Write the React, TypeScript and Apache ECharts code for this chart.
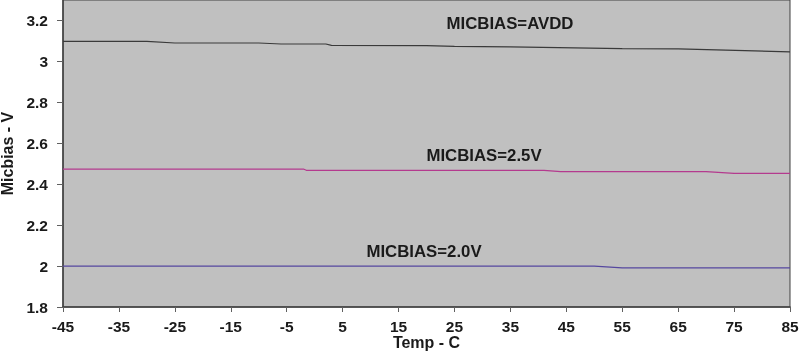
import React, { useEffect, useRef } from "react";
import * as echarts from "echarts";

const xTicks = [-45, -35, -25, -15, -5, 5, 15, 25, 35, 45, 55, 65, 75, 85];
const yTicks = [1.8, 2.0, 2.2, 2.4, 2.6, 2.8, 3.0, 3.2];

const avdd: [number, number][] = [
  [-45, 3.098], [-30, 3.098], [-25, 3.09], [-10, 3.09], [-6, 3.085],
  [2, 3.085], [3, 3.078], [20, 3.077], [25, 3.073], [35, 3.071],
  [55, 3.062], [65, 3.061], [85, 3.047],
];
const v25: [number, number][] = [
  [-45, 2.474], [-2, 2.474], [-1.5, 2.468], [41, 2.468], [44, 2.461],
  [70, 2.461], [75, 2.453], [85, 2.453],
];
const v20: [number, number][] = [
  [-45, 2.0], [50, 2.0], [55, 1.991], [85, 1.991],
];

const labels = [
  { text: "MICBIAS=AVDD", x: 510, y: 23 },
  { text: "MICBIAS=2.5V", x: 484, y: 155 },
  { text: "MICBIAS=2.0V", x: 424, y: 251 },
];

const font = "'Liberation Sans', Arial, sans-serif";

export default function App() {
  const ref = useRef<HTMLDivElement>(null);
  useEffect(() => {
    if (!ref.current) return;
    const chart = echarts.init(ref.current, undefined, { renderer: "svg" });
    chart.setOption({
      animation: false,
      grid: {
        left: 63,
        right: 15,
        top: 0,
        bottom: 47,
        containLabel: false,
        outerBoundsMode: "none",
        show: true,
        backgroundColor: "#c0c0c0",
        borderColor: "#404040",
        borderWidth: 1,
      },
      xAxis: {
        type: "value",
        min: -45,
        max: 85,
        interval: 10,
        name: "Temp - C",
        nameLocation: "middle",
        nameGap: 27,
        nameMoveOverlap: false,
        nameTextStyle: { fontFamily: font, fontWeight: "bold", fontSize: 16, color: "#1a1a1a" },
        axisLine: { show: true, onZero: false, lineStyle: { color: "#404040", width: 1.5 } },
        axisTick: { show: true, length: 5, lineStyle: { color: "#606060" } },
        axisLabel: {
          margin: 11,
          fontFamily: font,
          fontWeight: "bold",
          fontSize: 15.5,
          color: "#1a1a1a",
        },
        splitLine: { show: false },
      },
      yAxis: {
        type: "value",
        min: 1.8,
        max: 3.3,
        name: "Micbias - V",
        nameLocation: "middle",
        nameGap: 48,
        nameMoveOverlap: false,
        nameTextStyle: { fontFamily: font, fontWeight: "bold", fontSize: 16, color: "#1a1a1a" },
        axisLine: { show: true, onZero: false, lineStyle: { color: "#404040", width: 1.5 } },
        axisTick: { show: true, length: 6, customValues: yTicks, lineStyle: { color: "#606060" } },
        axisLabel: {
          margin: 15,
          customValues: yTicks,
          fontFamily: font,
          fontWeight: "bold",
          fontSize: 15.5,
          color: "#1a1a1a",
          formatter: (v: number) => String(Math.round(v * 10) / 10),
        },
        splitLine: { show: false },
      },
      series: [
        { type: "line", data: avdd, showSymbol: false, lineStyle: { color: "#3a3a3a", width: 1.2 }, z: 3 },
        { type: "line", data: v25, showSymbol: false, lineStyle: { color: "#b43a8e", width: 1.2 }, z: 3 },
        { type: "line", data: v20, showSymbol: false, lineStyle: { color: "#55479f", width: 1.2 }, z: 3 },
      ],
      graphic: labels.map((l) => ({
        type: "text",
        x: l.x,
        y: l.y,
        style: {
          text: l.text,
          fontFamily: font,
          fontWeight: "bold",
          fontSize: 16.8,
          fill: "#1a1a1a",
          textAlign: "center",
          textVerticalAlign: "middle",
        },
      })),
    });
    return () => chart.dispose();
  }, []);
  return (
    <div
      ref={ref}
      style={{ position: "fixed", left: 0, top: 0, width: 805, height: 354 }}
    />
  );
}
